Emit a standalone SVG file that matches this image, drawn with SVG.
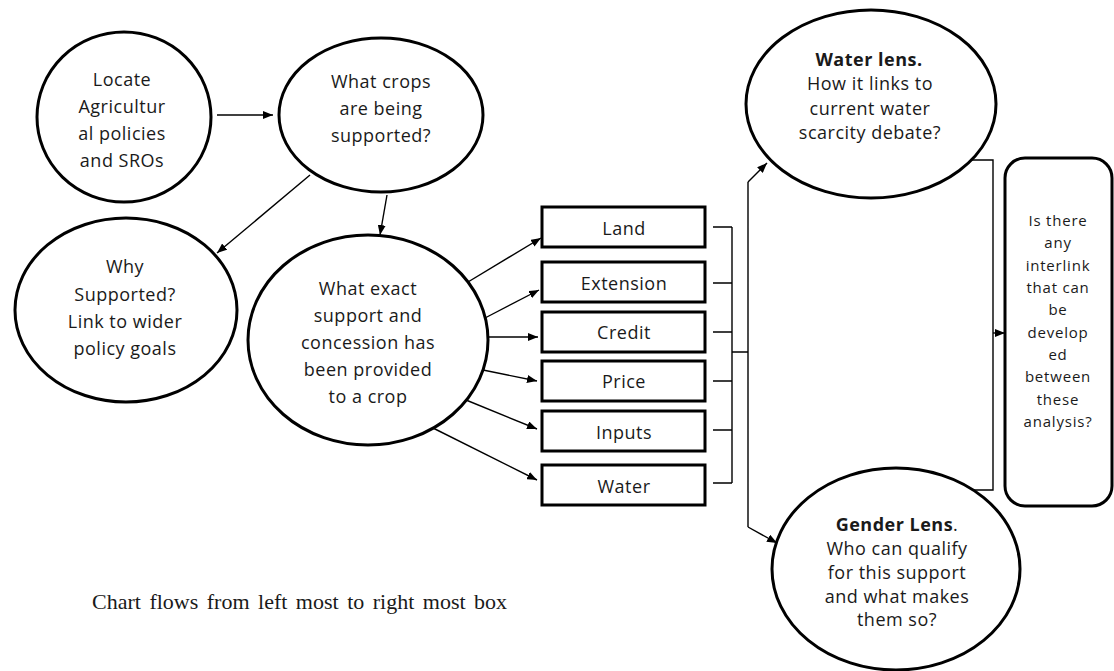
<svg xmlns="http://www.w3.org/2000/svg" width="1114" height="671" viewBox="0 0 1114 671">
<defs>
<marker id="ah" viewBox="0 0 10 8" refX="10" refY="4" markerWidth="10" markerHeight="8" markerUnits="userSpaceOnUse" orient="auto">
<path d="M0,0 L10,4 L0,8 Z" fill="#000"/>
</marker>
<style>
.node{fill:#fff;stroke:#000;stroke-width:3}
.box{fill:#fff;stroke:#000;stroke-width:3}
.t{font-family:"Open Sans","DejaVu Sans",sans-serif;font-size:18px;fill:#1a1a1a;text-anchor:middle;letter-spacing:0.5px}
.ts{font-family:"Open Sans","DejaVu Sans",sans-serif;font-size:15px;fill:#1a1a1a;text-anchor:middle;letter-spacing:0.8px}
.b{font-weight:bold}
.c{fill:none;stroke:#000;stroke-width:1.4}
.a{fill:none;stroke:#000;stroke-width:1.4;marker-end:url(#ah)}
.note{font-family:"Liberation Serif","Times New Roman",serif;font-size:22px;fill:#1a1a1a;word-spacing:3px}
</style>
</defs>
<rect width="1114" height="671" fill="#fff"/>

<g id="connectors">
<line class="a" x1="217" y1="115" x2="273" y2="115"/>
<line class="a" x1="310" y1="175" x2="217" y2="253"/>
<line class="a" x1="387" y1="195" x2="380" y2="235"/>
<line class="a" x1="468" y1="282" x2="541" y2="238"/>
<line class="a" x1="485" y1="318" x2="539" y2="290"/>
<line class="a" x1="488" y1="337" x2="538" y2="337"/>
<line class="a" x1="483" y1="370" x2="537" y2="381"/>
<line class="a" x1="466" y1="400" x2="537" y2="429"/>
<line class="a" x1="433" y1="428" x2="537" y2="480"/>
<path class="c" d="M713,227 H732 M713,283 H732 M713,332 H732 M713,381 H732 M713,430 H732 M713,483 H732 M732,227 V483 M732,352 H748 M748,182 V527"/>
<line class="a" x1="748" y1="182" x2="767" y2="163"/>
<line class="a" x1="748" y1="527" x2="777" y2="543"/>
<path class="c" d="M971,160 H993 V490 H973"/>
<line class="a" x1="993" y1="333" x2="1005" y2="333"/>
</g>

<g id="locate">
<ellipse class="node" cx="124" cy="117" rx="87" ry="85"/>
<text class="t" x="122" y="86">Locate</text>
<text class="t" x="122" y="113">Agricultur</text>
<text class="t" x="122" y="140">al policies</text>
<text class="t" x="122" y="167">and SROs</text>
</g>

<g id="what-crops">
<ellipse class="node" cx="381" cy="115" rx="102" ry="77"/>
<text class="t" x="381" y="88">What crops</text>
<text class="t" x="381" y="115">are being</text>
<text class="t" x="381" y="142">supported?</text>
</g>

<g id="why">
<ellipse class="node" cx="126" cy="310" rx="111" ry="92"/>
<text class="t" x="125" y="273">Why</text>
<text class="t" x="125" y="301">Supported?</text>
<text class="t" x="125" y="328">Link to wider</text>
<text class="t" x="125" y="355">policy goals</text>
</g>

<g id="what-exact">
<ellipse class="node" cx="368" cy="340" rx="120" ry="105"/>
<text class="t" x="368" y="295">What exact</text>
<text class="t" x="368" y="322">support and</text>
<text class="t" x="368" y="349">concession has</text>
<text class="t" x="368" y="376">been provided</text>
<text class="t" x="368" y="403">to a crop</text>
</g>

<g id="land">
<rect class="box" x="542" y="207" width="163" height="40"/>
<text class="t" x="624" y="235">Land</text>
</g>
<g id="extension">
<rect class="box" x="542" y="262" width="163" height="40"/>
<text class="t" x="624" y="290">Extension</text>
</g>
<g id="credit">
<rect class="box" x="542" y="312" width="163" height="40"/>
<text class="t" x="624" y="339">Credit</text>
</g>
<g id="price">
<rect class="box" x="542" y="361" width="163" height="40"/>
<text class="t" x="624" y="388">Price</text>
</g>
<g id="inputs">
<rect class="box" x="542" y="411" width="163" height="40"/>
<text class="t" x="624" y="439">Inputs</text>
</g>
<g id="water">
<rect class="box" x="542" y="465" width="163" height="40"/>
<text class="t" x="624" y="493">Water</text>
</g>

<g id="water-lens">
<ellipse class="node" cx="871" cy="104" rx="125" ry="94"/>
<text class="t b" x="869" y="66">Water lens.</text>
<text class="t" x="870" y="90">How it links to</text>
<text class="t" x="870" y="115">current water</text>
<text class="t" x="870" y="139">scarcity debate?</text>
</g>

<g id="gender-lens">
<ellipse class="node" cx="896" cy="569" rx="124" ry="101"/>
<text class="t" x="897" y="531"><tspan class="b">Gender Lens</tspan>.</text>
<text class="t" x="897" y="555">Who can qualify</text>
<text class="t" x="897" y="579">for this support</text>
<text class="t" x="897" y="603">and what makes</text>
<text class="t" x="897" y="626">them so?</text>
</g>

<g id="interlink">
<rect class="box" x="1005" y="158" width="107" height="348" rx="20" ry="20"/>
<text class="ts" x="1058" y="226">Is there</text>
<text class="ts" x="1058" y="248">any</text>
<text class="ts" x="1058" y="271">interlink</text>
<text class="ts" x="1058" y="293">that can</text>
<text class="ts" x="1058" y="315">be</text>
<text class="ts" x="1058" y="338">develop</text>
<text class="ts" x="1058" y="360">ed</text>
<text class="ts" x="1058" y="382">between</text>
<text class="ts" x="1058" y="405">these</text>
<text class="ts" x="1058" y="427">analysis?</text>
</g>

<text class="note" x="92" y="609">Chart flows from left most to right most box</text>
</svg>
